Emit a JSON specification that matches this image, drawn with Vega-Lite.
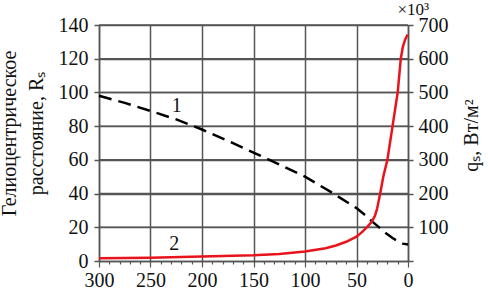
{
  "$schema": "https://vega.github.io/schema/vega-lite/v6.json",
  "width": 309,
  "height": 236,
  "autosize": {"type": "none"},
  "padding": {"left": 99, "top": 25, "right": 80, "bottom": 29},
  "background": "white",
  "config": {
    "view": {"stroke": null},
    "font": "Liberation Serif",
    "axis": {"labelFont": "Liberation Serif", "titleFont": "Liberation Serif", "labelColor": "#111", "titleColor": "#111", "titleFontWeight": "normal"}
  },
  "datasets": {
    "grid": [{"g": 20}, {"g": 40}, {"g": 60}, {"g": 80}, {"g": 100}, {"g": 120}, {"g": 140}],
    "dist": [
      {"t": 300, "R": 98}, {"t": 275, "R": 93.8}, {"t": 250, "R": 89}, {"t": 225, "R": 84},
      {"t": 200, "R": 78}, {"t": 175, "R": 71.3}, {"t": 150, "R": 64.3}, {"t": 125, "R": 57.3},
      {"t": 100, "R": 50}, {"t": 75, "R": 41}, {"t": 50, "R": 31.4}, {"t": 40, "R": 26.5},
      {"t": 35, "R": 23.5}, {"t": 30, "R": 21}, {"t": 25, "R": 18.3}, {"t": 20, "R": 15.8},
      {"t": 15, "R": 13.6}, {"t": 10, "R": 11.7}, {"t": 5, "R": 10.3}, {"t": 0, "R": 9.8}
    ],
    "flux": [
      {"t": 300, "q": 8}, {"t": 250, "q": 10}, {"t": 200, "q": 13}, {"t": 150, "q": 17},
      {"t": 125, "q": 21}, {"t": 100, "q": 28}, {"t": 80, "q": 38}, {"t": 70, "q": 46},
      {"t": 60, "q": 57}, {"t": 50, "q": 72}, {"t": 45, "q": 85}, {"t": 40, "q": 100},
      {"t": 35, "q": 117}, {"t": 32, "q": 135}, {"t": 30, "q": 155}, {"t": 27, "q": 200},
      {"t": 24, "q": 250}, {"t": 20, "q": 300}, {"t": 17.5, "q": 350}, {"t": 15, "q": 400},
      {"t": 12.5, "q": 450}, {"t": 10, "q": 500}, {"t": 8.5, "q": 550}, {"t": 7, "q": 600},
      {"t": 5, "q": 635}, {"t": 3, "q": 655}, {"t": 1, "q": 668}, {"t": 0.5, "q": 672}
    ],
    "labels": [
      {"t": 224.5, "R": 92, "label": "1", "size": 20},
      {"t": 227, "R": 10.2, "label": "2", "size": 20},
      {"t": -5.2, "R": 149, "label": "×10³", "size": 17}
    ]
  },
  "layer": [
    {
      "data": {"name": "grid"},
      "mark": {"type": "rule", "color": "#555", "strokeWidth": 1.5},
      "encoding": {
        "y": {"field": "g", "type": "quantitative", "scale": {"domain": [0, 140], "nice": false}, "axis": null}
      }
    },
    {
      "encoding": {
        "x": {
          "field": "t", "type": "quantitative",
          "scale": {"domain": [300, 0], "nice": false, "zero": false},
          "axis": {
            "values": [0,10,20,30,40,50,60,70,80,90,100,110,120,130,140,150,160,170,180,190,200,210,220,230,240,250,260,270,280,290,300],
            "title": null,
            "grid": true,
            "gridColor": "#555",
            "gridWidth": 1.5,
            "gridOpacity": {"condition": {"test": "datum.value % 50 === 0", "value": 1}, "value": 0},
            "tickSize": {"condition": {"test": "datum.value % 50 === 0", "value": 6}, "value": 3},
            "tickColor": "#555",
            "tickWidth": 1.2,
            "domainColor": "#555",
            "domainWidth": 1.5,
            "labelExpr": "datum.value % 50 === 0 ? datum.label : ''",
            "labelOverlap": false,
            "labelFontSize": 20,
            "labelPadding": 3,
            "labelFlush": false
          }
        }
      },
      "layer": [
        {
          "data": {"name": "dist"},
          "mark": {"type": "line", "color": "#000", "strokeWidth": 2.5, "strokeDash": [13, 7]},
          "encoding": {
            "y": {
              "field": "R", "type": "quantitative",
              "scale": {"domain": [0, 140], "nice": false},
              "axis": {
                "values": [0, 20, 40, 60, 80, 100, 120, 140],
                "grid": true,
                "gridColor": "#555",
                "gridWidth": 1.5,
                "tickSize": 5,
                "tickColor": "#555",
                "tickWidth": 1.5,
                "domainColor": "#555",
                "domainWidth": 1.5,
                "labelFontSize": 20,
                "labelPadding": 6,
                "labelFlush": false,
                "title": ["Гелиоцентрическое", "расстояние, Rₛ"],
                "titleFontSize": 20,
                "titleLineHeight": 27,
                "titleAngle": -90,
                "titleAlign": "center",
                "titleBaseline": "bottom",
                "titleX": -80,
                "titleY": 108
              }
            }
          }
        },
        {
          "data": {"name": "labels"},
          "mark": {"type": "text", "font": "Liberation Serif", "color": "#111", "baseline": "middle", "align": "center"},
          "encoding": {
            "y": {"field": "R", "type": "quantitative", "scale": {"domain": [0, 140], "nice": false}, "axis": null},
            "text": {"field": "label"},
            "size": {"field": "size", "type": "quantitative", "scale": null, "legend": null}
          }
        },
        {
          "data": {"name": "flux"},
          "mark": {"type": "line", "color": "#e8131b", "strokeWidth": 2.5},
          "encoding": {
            "y": {
              "field": "q", "type": "quantitative",
              "scale": {"domain": [0, 700], "nice": false},
              "axis": {
                "orient": "right",
                "values": [0, 100, 200, 300, 400, 500, 600, 700],
                "labelExpr": "datum.value === 0 ? '' : datum.label",
                "grid": false,
                "tickSize": 5,
                "tickColor": "#555",
                "tickWidth": 1.5,
                "domainColor": "#555",
                "domainWidth": 1.5,
                "labelFontSize": 20,
                "labelPadding": 5,
                "labelFlush": false,
                "title": "qₛ, Вт/м²",
                "titleFontSize": 20,
                "titleAngle": 270,
                "titleAlign": "center",
                "titleBaseline": "middle",
                "titleX": 63,
                "titleY": 110
              }
            }
          }
        }
      ],
      "resolve": {"scale": {"y": "independent"}}
    }
  ],
  "resolve": {"scale": {"y": "independent"}}
}
